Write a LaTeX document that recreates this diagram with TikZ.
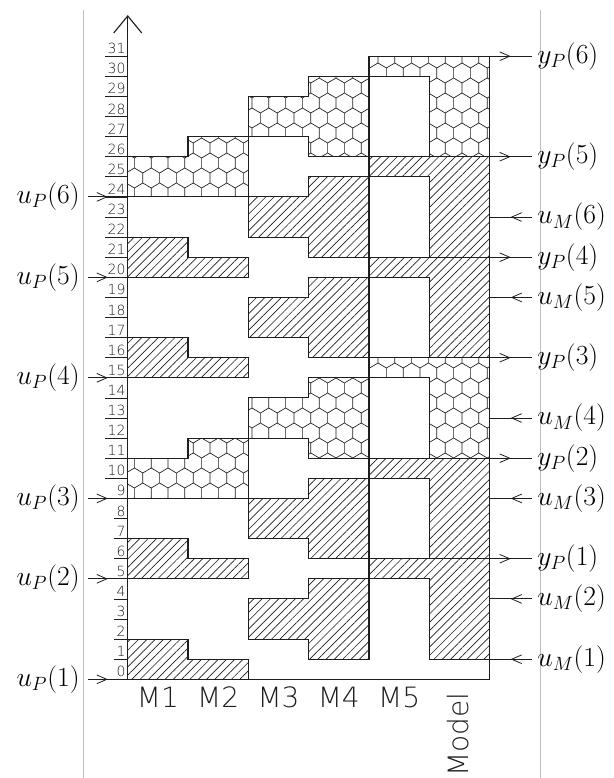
\documentclass[tikz,border=0pt]{standalone}
\usepackage{fontspec}
\usetikzlibrary{arrows.meta,patterns.meta,decorations.markings}
\newfontfamily\cadfont{DejaVu Sans ExtraLight}
\definecolor{ink}{HTML}{1E1E1E}
\definecolor{rule}{HTML}{BEBEBE}
\tikzdeclarepattern{name=honeycomb,type=uncolored,bounding box={(-1pt,-1pt) and (13.6pt,23.5pt)},tile size={(12.6pt,22.5pt)},code={\draw[line width=.5pt] (6.3pt,0pt)--(6.3pt,3.75pt)--(0pt,7.5pt)--(0pt,15pt)--(6.3pt,18.75pt)--(6.3pt,22.5pt) (6.3pt,3.75pt)--(12.6pt,7.5pt) (12.6pt,15pt)--(6.3pt,18.75pt);}}
\tikzset{blk/.style={draw=ink,line width=.85pt},hatchblk/.style={blk,pattern color=ink,pattern={Lines[angle=45,distance=4.4pt,line width=.5pt]}},hexblk/.style={blk,pattern color=ink,pattern=honeycomb},sig/.style={draw=ink,line width=.7pt,postaction={decorate},decoration={markings,mark=at position .5 with {\arrow{Straight Barb[length=7.5pt,width=6.5pt,line width=.6pt]}}}},lbl/.style={font=\fontsize{21}{24}\selectfont,inner sep=4pt},num/.style={font=\cadfont\fontsize{10.5}{12}\selectfont,text=ink,inner xsep=1.5pt,inner ysep=1.5pt,anchor=south east},col/.style={font=\cadfont\fontsize{21}{24}\selectfont,text=ink},guide/.style={draw=rule,line width=.75pt}}

\begin{document}
\begin{tikzpicture}[x=45.23pt,y=15.075pt]
\useasboundingbox (-95.8pt,-74pt) rectangle (364pt,509.5pt);
% page rules
\draw[guide] (-33.5pt,-74pt) -- (-33.5pt,502pt);
\draw[guide] (309.2pt,-74pt) -- (309.2pt,502pt);
% hatched slots
\foreach \l in {0,5,15,20}{
  \draw[hatchblk] (0,\l) -- (0,\l+2) -- (1,\l+2) -- (1,\l+1) -- (2,\l+1) -- (2,\l) -- cycle;
  \draw[hatchblk] (2,\l+2) -- (2,\l+4) -- (3,\l+4) -- (3,\l+5) -- (4,\l+5) -- (4,\l+1) -- (3,\l+1) -- (3,\l+2) -- cycle;
  \draw[hatchblk] (4,\l+5) -- (4,\l+6) -- (6,\l+6) -- (6,\l+1) -- (5,\l+1) -- (5,\l+5) -- cycle;
}
% honeycomb slots
\foreach \l in {9,24}{
  \draw[hexblk] (0,\l) -- (0,\l+2) -- (1,\l+2) -- (1,\l+3) -- (2,\l+3) -- (2,\l) -- cycle;
  \draw[hexblk] (2,\l+3) -- (2,\l+5) -- (3,\l+5) -- (3,\l+6) -- (4,\l+6) -- (4,\l+2) -- (3,\l+2) -- (3,\l+3) -- cycle;
  \draw[hexblk] (4,\l+6) -- (4,\l+7) -- (6,\l+7) -- (6,\l+2) -- (5,\l+2) -- (5,\l+6) -- cycle;
}
% time axis
\coordinate (org) at (0,0);
\coordinate (top) at (0,498.2pt);
\draw[blk,-{Straight Barb[length=12.75pt,width=21pt]}] (org) -- (top);
\draw[blk] (org) -- (6,0) -- (6,1);
\foreach \n in {0,...,31}{
  \node[num] (t\n) at (0,\n) {\n};
  \draw[ink,line width=.6pt] (t\n.south west) -- (t\n.south east);
}
% columns
\foreach \c [count=\i from 0] in {M1,M2,M3,M4,M5}
  \node[col] (c\c) at (\i+0.5,-0.88) {\c};
\node[col,rotate=90] (cModel) at (5.47,-2.75) {Model};
% signals
\foreach \i/\l in {1/0,2/5,3/9,4/15,5/20,6/24}{
  \coordinate (uP\i) at (0,\l);
  \node[lbl,anchor=east,inner xsep=6pt] (luP\i) at (-0.66,\l) {$u_P(\i)$};
  \draw[sig] (luP\i.east) -- (uP\i);
}
\foreach \i/\l in {1/6,2/11,3/16,4/21,5/26,6/31}{
  \coordinate (yP\i) at (6,\l);
  \node[lbl,anchor=west] (lyP\i) at (6.70,\l) {$y_P(\i)$};
  \draw[sig] (yP\i) -- (lyP\i.west);
}
\foreach \i/\l in {1/1,2/4,3/9,4/13,5/19,6/23}{
  \coordinate (uM\i) at (6,\l);
  \node[lbl,anchor=west] (luM\i) at (6.70,\l) {$u_M(\i)$};
  \draw[sig] (luM\i.west) -- (uM\i);
}
\end{tikzpicture}
\end{document}
